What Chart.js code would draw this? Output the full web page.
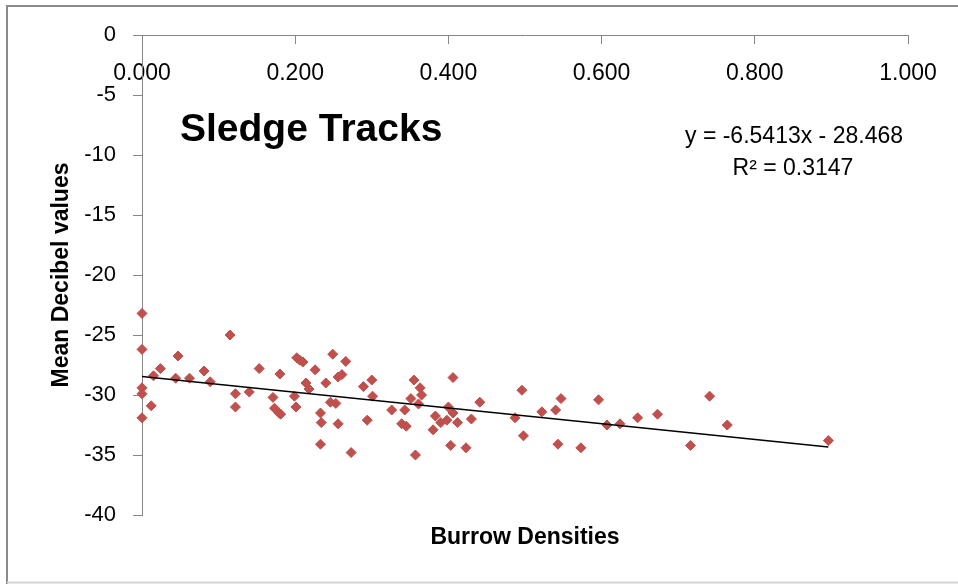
<!DOCTYPE html>
<html>
<head>
<meta charset="utf-8">
<script src="https://cdn.jsdelivr.net/npm/chart.js@4/dist/chart.umd.min.js"></script>
<style>
  html, body { margin: 0; padding: 0; background: #fff; }
  #wrap { width: 958px; height: 584px; position: relative; }
</style>
</head>
<body>
<div id="wrap"><canvas id="c"></canvas></div>
<script>
// ---- data ----
const burrowDensity = [
  0.000, 0.000, 0.000, 0.000, 0.000, 0.012, 0.015, 0.024, 0.047, 0.044,
  0.062, 0.081, 0.089, 0.115, 0.122, 0.122, 0.140, 0.153, 0.171, 0.173,
  0.179, 0.181, 0.180, 0.199, 0.201, 0.202, 0.206, 0.210, 0.214, 0.218,
  0.226, 0.240, 0.233, 0.234, 0.233, 0.246, 0.253, 0.249, 0.256, 0.261,
  0.266, 0.256, 0.273, 0.289, 0.300, 0.301, 0.294, 0.326, 0.343, 0.339,
  0.345, 0.355, 0.363, 0.365, 0.351, 0.361, 0.357, 0.383, 0.390, 0.398,
  0.380, 0.400, 0.406, 0.406, 0.412, 0.403, 0.423, 0.430, 0.441, 0.487,
  0.496, 0.498, 0.522, 0.540, 0.547, 0.543, 0.573, 0.596, 0.607, 0.624,
  0.647, 0.673, 0.716, 0.741, 0.764, 0.896
];
const meanDecibel = [
  -23.2, -26.2, -29.4, -29.9, -31.9, -30.9, -28.4, -27.8, -26.75, -28.6,
  -28.6, -28.0, -28.9, -25.0, -29.9, -31.0, -29.75, -27.8, -30.2, -31.1,
  -31.5, -31.6, -28.25, -30.1, -31.0, -26.9, -27.1, -27.25, -29.0, -29.5,
  -27.9, -29.0, -31.5, -32.3, -34.1, -30.6, -30.7, -26.6, -28.5, -28.3,
  -27.2, -32.4, -34.8, -29.3, -28.75, -30.1, -32.1, -31.25, -31.25, -32.4,
  -32.6, -28.75, -29.4, -30.0, -30.3, -30.75, -35.0, -31.75, -32.3, -32.1,
  -32.9, -31.0, -31.5, -28.55, -32.3, -34.2, -34.4, -32.0, -30.6, -31.9,
  -29.6, -33.4, -31.4, -31.25, -30.3, -34.1, -34.4, -30.4, -32.5, -32.4,
  -31.9, -31.6, -34.2, -30.1, -32.5, -33.8
];
// trendline shown in the chart: y = -6.5413x - 28.468, R² = 0.3147
const trendSlope = -6.5413;
const trendIntercept = -28.468;
const trendR2 = 0.3147;
const xTickMin = 0, xTickMax = 1, xTickStep = 0.2;
const yTickMin = -40, yTickMax = 0, yTickStep = 5;
const chartTitle = 'Sledge Tracks';
const xTitle = 'Burrow Densities';
const yTitle = 'Mean Decibel values';

// ---- build chart ----
const FONT = "'Liberation Sans', Arial, sans-serif";
const points = burrowDensity.map((x, i) => ({ x: x, y: meanDecibel[i] }));
const xMaxData = Math.max(...burrowDensity);
const trend = [0, xMaxData].map(x => ({ x: x, y: trendSlope * x + trendIntercept }));

const decor = {
  id: 'decor',
  beforeDraw(chart) {
    const ctx = chart.ctx;
    ctx.save();
    ctx.fillStyle = '#fff';
    ctx.fillRect(0, 0, chart.width, chart.height);
    ctx.restore();
  },
  afterDraw(chart) {
    const ctx = chart.ctx;
    ctx.save();
    // frame
    ctx.strokeStyle = '#8a8a8a';
    ctx.lineWidth = 2;
    ctx.beginPath();
    ctx.moveTo(7, 584);
    ctx.lineTo(7, 6);
    ctx.lineTo(958, 6);
    ctx.stroke();
    ctx.strokeStyle = '#d4d4d4';
    ctx.beginPath();
    ctx.moveTo(7, 582.5);
    ctx.lineTo(958, 582.5);
    ctx.stroke();
    // title (overlay)
    ctx.fillStyle = '#000';
    ctx.textBaseline = 'alphabetic';
    ctx.textAlign = 'left';
    ctx.font = 'bold 39px ' + FONT;
    ctx.fillText(chartTitle, 180, 141);
    // trendline label
    ctx.textAlign = 'center';
    ctx.font = '23px ' + FONT;
    ctx.fillText('y = ' + trendSlope.toFixed(4) + 'x - ' + Math.abs(trendIntercept).toFixed(3), 794, 143);
    ctx.fillText('R\u00B2 = ' + trendR2.toFixed(4), 793, 175);
    ctx.restore();
  }
};

new Chart(document.getElementById('c'), {
  type: 'scatter',
  data: {
    datasets: [
      {
        type: 'line',
        label: 'Linear trend',
        data: trend,
        showLine: true,
        borderColor: '#000',
        borderWidth: 1.5,
        pointRadius: 0,
        fill: false,
        clip: false
      },
      {
        label: 'Sledge Tracks',
        data: points,
        pointStyle: 'rectRot',
        pointRadius: 5,
        pointBorderWidth: 1,
        backgroundColor: '#C0504D',
        borderColor: '#C0504D',
        clip: false
      }
    ]
  },
  options: {
    responsive: true,
    maintainAspectRatio: false,
    devicePixelRatio: 1,
    animation: false,
    layout: { padding: { left: 8, right: 50, top: 35, bottom: 69 } },
    plugins: { legend: { display: false }, tooltip: { enabled: false }, title: { display: false } },
    scales: {
      x: {
        type: 'linear',
        position: { y: 0 },
        min: xTickMin, max: xTickMax,
        afterFit(s) { s.height = 516; },
        border: { display: true, color: '#868686', width: 1 },
        grid: { display: true, drawOnChartArea: false, drawTicks: true, tickLength: 8, color: '#868686' },
        ticks: {
          stepSize: xTickStep, color: '#000', padding: 17, maxRotation: 0, autoSkip: false,
          font: { family: FONT, size: 23 },
          callback: v => Number(v).toFixed(3)
        },
        title: { display: true, text: xTitle, color: '#000', padding: { top: 0, bottom: 0 },
                 font: { family: FONT, size: 23, weight: 'bold' } }
      },
      y: {
        type: 'linear',
        position: 'left',
        min: yTickMin, max: yTickMax,
        afterFit(s) { s.width = 134; },
        border: { display: true, color: '#868686', width: 1 },
        grid: { display: true, drawOnChartArea: false, drawTicks: true, tickLength: 9, color: '#868686' },
        ticks: {
          stepSize: yTickStep, color: '#000', padding: 17,
          font: { family: FONT, size: 22 }
        },
        title: { display: true, text: yTitle, color: '#000', padding: { top: 40, bottom: 0 },
                 font: { family: FONT, size: 23, weight: 'bold' } }
      }
    }
  },
  plugins: [decor]
});
</script>
</body>
</html>
